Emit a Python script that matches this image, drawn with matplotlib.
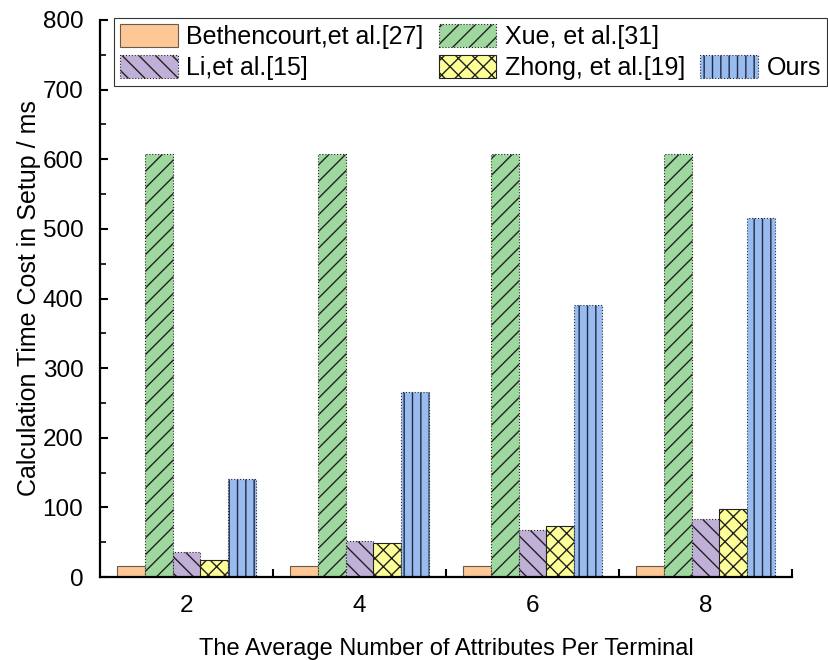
import matplotlib
matplotlib.use("Agg")
import matplotlib.pyplot as plt
from matplotlib.patches import Rectangle
from matplotlib.ticker import MultipleLocator
import numpy as np

plt.rcParams['font.family'] = ['Liberation Sans', 'DejaVu Sans']
plt.rcParams['hatch.linewidth'] = 1.0

attributes = [2, 4, 6, 8]
bethencourt = [16, 16, 16, 16]
xue = [607, 607, 607, 607]
li = [36, 51, 67, 83]
zhong = [24, 49, 73, 97]
ours = [141, 265, 390, 515]

# drawing order within each group (left to right)
bar_order = [
    ("Bethencourt,et al.[27]", bethencourt, "#FDC896", "", "#6b5a4a", "-"),
    ("Xue, et al.[31]", xue, "#9ED89E", "//", "#222222", ":"),
    ("Li,et al.[15]", li, "#C0B0D8", "\\\\", "#222222", ":"),
    ("Zhong, et al.[19]", zhong, "#FFFF99", "xx", "#222222", "-"),
    ("Ours", ours, "#99BBEE", "||", "#1f2a44", ":"),
]

fig = plt.figure(figsize=(8.29, 6.60), dpi=100)
ax = fig.add_axes([100 / 829, 1 - 577 / 660, (792 - 100) / 829, (577 - 20) / 660])

x = np.array(attributes, dtype=float)
width = 0.32
handles = {}
for i, (name, vals, color, hatch, edge, ls) in enumerate(bar_order):
    offset = (i - 2) * width
    bars = ax.bar(x + offset, vals, width, color=color, hatch=hatch,
                  edgecolor=edge, linewidth=0.8, linestyle=ls, label=name)
    handles[name] = bars

ax.set_xlim(1, 9)
ax.set_ylim(0, 800)

# axis frame: left and bottom only
for side in ("top", "right"):
    ax.spines[side].set_visible(False)
for side in ("left", "bottom"):
    ax.spines[side].set_linewidth(1.6)

ax.yaxis.set_major_locator(MultipleLocator(100))
ax.yaxis.set_minor_locator(MultipleLocator(50))
ax.tick_params(axis="y", which="major", direction="in", length=6, width=1.5,
               labelsize=17.5, pad=12)
ax.tick_params(axis="y", which="minor", direction="in", length=4, width=1.2)

ax.set_xticks(attributes)
ax.set_xticklabels([str(a) for a in attributes])
ax.set_xticks([3, 5, 7, 9], minor=True)
ax.tick_params(axis="x", which="major", length=0, labelsize=17.5, pad=13)
ax.tick_params(axis="x", which="minor", direction="in", length=6, width=1.5)

ax.set_ylabel("Calculation Time Cost in Setup / ms", fontsize=18, labelpad=1)
ax.set_xlabel("The Average Number of Attributes Per Terminal", fontsize=17, labelpad=15)

blank = Rectangle((0, 0), 1, 1, visible=False)
leg_handles = [handles["Bethencourt,et al.[27]"], handles["Li,et al.[15]"],
               handles["Xue, et al.[31]"], handles["Zhong, et al.[19]"],
               blank, handles["Ours"]]
leg_labels = ["Bethencourt,et al.[27]", "Li,et al.[15]", "Xue, et al.[31]",
              "Zhong, et al.[19]", "", "Ours"]
leg = fig.legend(leg_handles, leg_labels, ncol=3, loc="upper left",
                 bbox_to_anchor=(114 / 829, 1 - 18 / 660), fontsize=18,
                 frameon=True, fancybox=False, handlelength=2.3, handleheight=1.0,
                 handletextpad=0.35, columnspacing=0.6, labelspacing=0.25,
                 borderpad=0.25, borderaxespad=0)
leg.get_frame().set_edgecolor("black")
leg.get_frame().set_linewidth(0.8)

fig.savefig("out.png", dpi=100)
